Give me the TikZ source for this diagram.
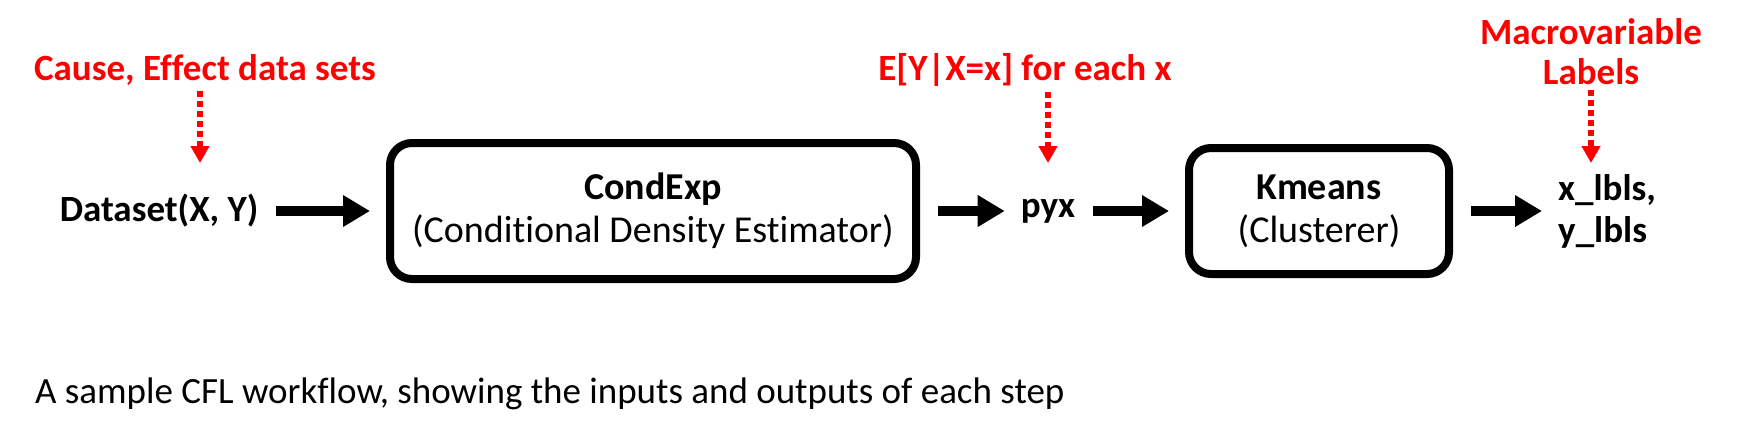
\documentclass[tikz,border=0pt]{standalone}
\usepackage{fontspec}
\setmainfont{Carlito}[Ligatures=NoCommon]
\usetikzlibrary{arrows.meta,positioning}

\tikzset{
  stage/.style={draw, line width=8pt, rounded corners=22pt, minimum height=136pt,
    align=center, inner sep=0pt, font=\fontsize{38}{43}\selectfont},
  io/.style={inner sep=0pt, align=left, font=\bfseries\fontsize{37}{42}\selectfont},
  note/.style={inner sep=0pt, align=center, text=red, font=\bfseries\fontsize{37}{40}\selectfont},
  flow/.style={line width=10pt, shorten <=18pt, shorten >=16pt,
    -{Triangle[length=27pt,width=30pt]}},
  hint/.style={red, line width=6pt, dash pattern=on 6pt off 4pt, shorten <=5pt,
    -{Triangle[length=17pt,width=18pt]}},
}

\begin{document}
\begin{tikzpicture}[x=1pt, y=-1pt]
  \useasboundingbox (0,0) rectangle (1739,437);

  % the workflow
  \node[io] (data) at (159,211) {Dataset(X, Y)};
  \node[stage, minimum width=526pt] (cond) at (653,211)
    {\textbf{CondExp}\\(Conditional Density Estimator)};
  \node[io] (pyx) at (1048,211) {pyx};
  \node[stage, minimum width=260pt, minimum height=126pt] (km) at (1319,211)
    {\textbf{Kmeans}\\(Clusterer)};
  \node[io, anchor=west] (lbls) at (1558,211) {x\_lbls,\\y\_lbls};

  \draw[flow] (data) -- (cond);
  \draw[flow] (cond) -- (pyx);
  \draw[flow] (pyx) -- (km);
  \draw[flow] (km) -- (lbls);

  % what each stage gives
  \node[note] (cause) at (205,70) {Cause, Effect data sets};
  \node[note] (expect) at (1025,70) {E[Y|X=x] for each x};
  \node[note] (macro) at (1591,52) {Macrovariable\\Labels};

  \coordinate (cause-in) at (200,163);
  \coordinate (expect-in) at (1048,163);
  \coordinate (macro-in) at (1591,163);

  \draw[hint] (cause.south -| cause-in) -- (cause-in);
  \draw[hint] (expect.south -| expect-in) -- (expect-in);
  \draw[hint] (macro.south -| macro-in) -- (macro-in);

  \node[anchor=west, inner sep=0pt, font=\fontsize{37}{40}\selectfont] (caption) at (35,394)
    {A sample CFL workflow, showing the inputs and outputs of each step};
\end{tikzpicture}
\end{document}
